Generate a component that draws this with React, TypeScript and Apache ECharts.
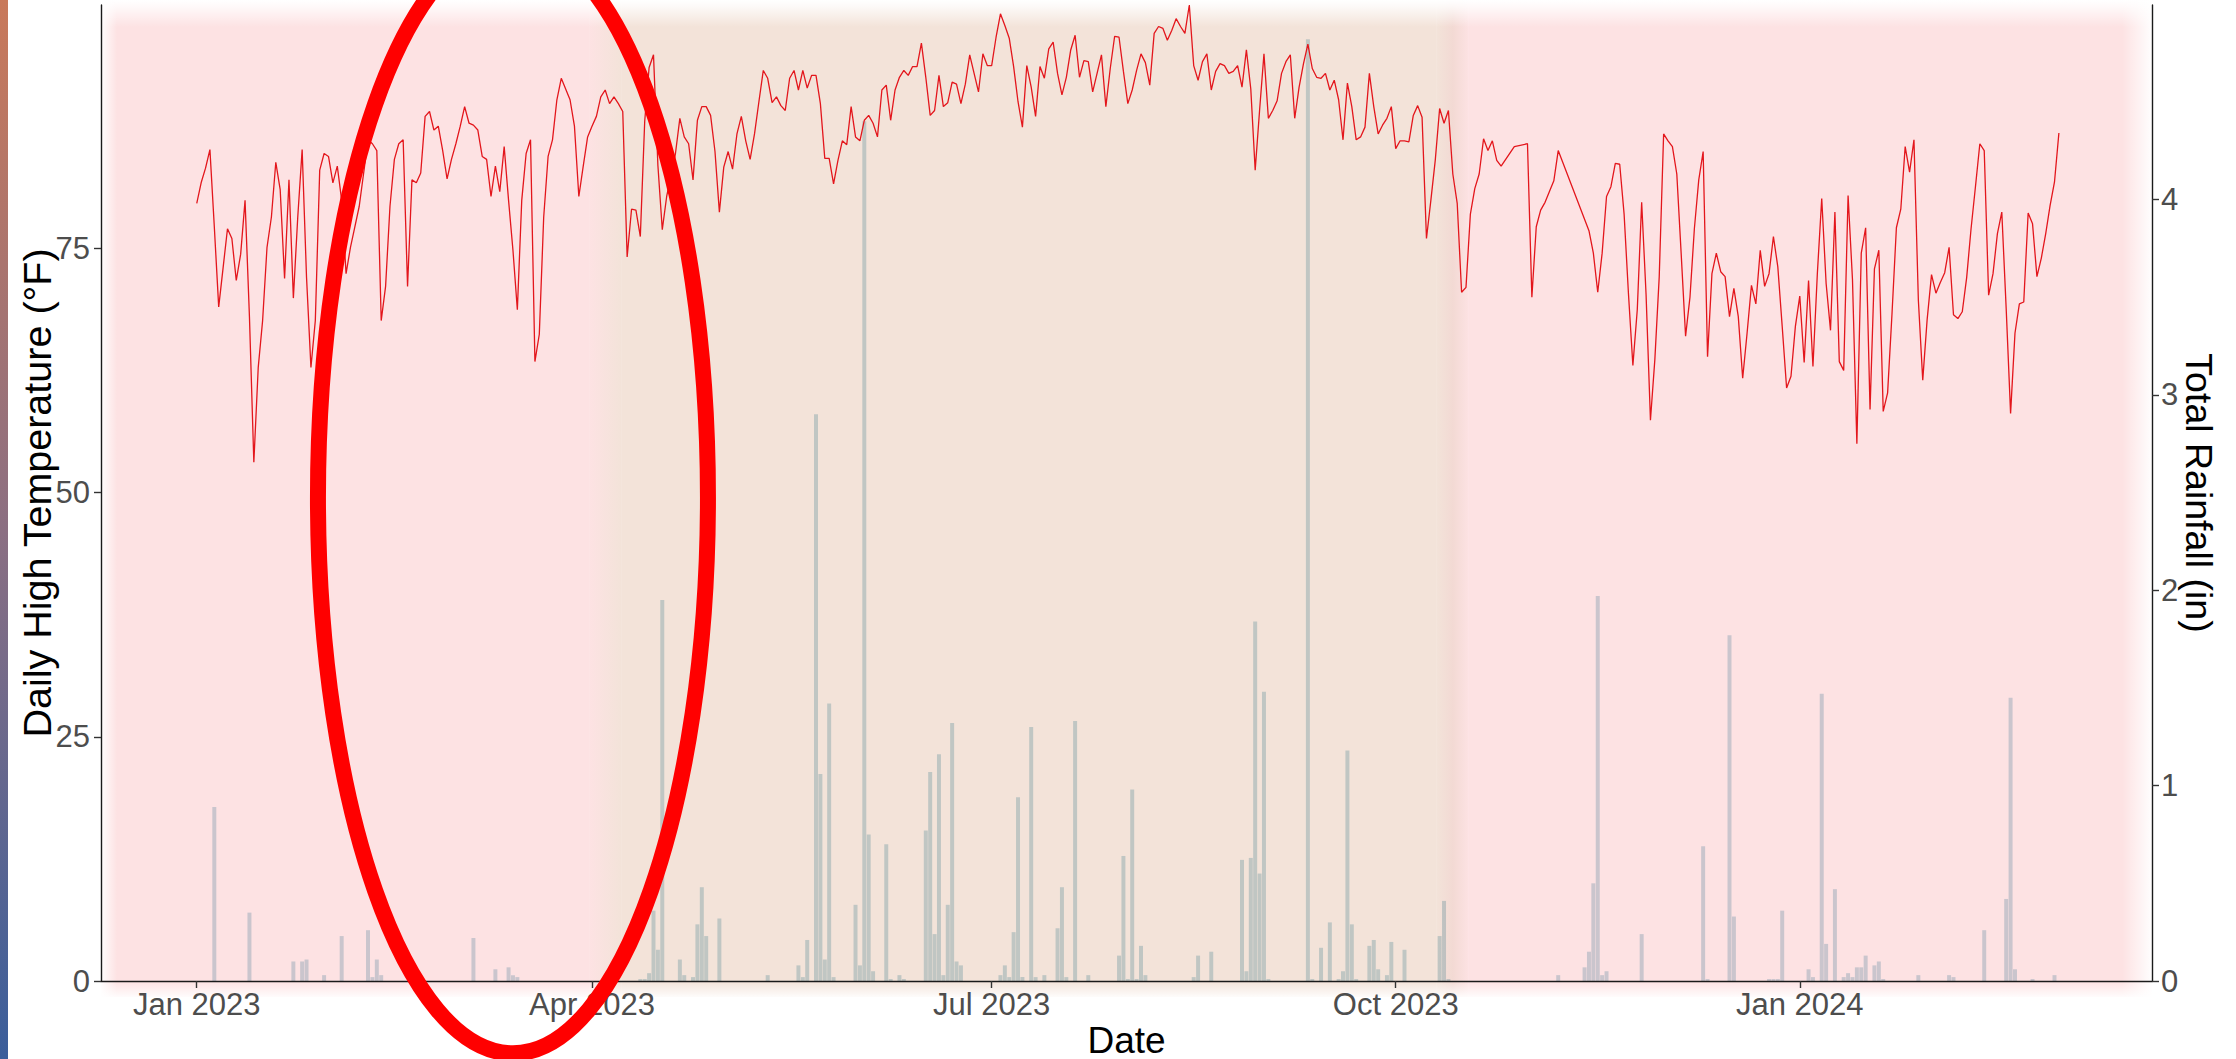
import React, { useEffect, useRef } from "react";
import * as echarts from "echarts";

// ---------------- data ----------------
const START_DATE = "2023-01-01"; // day index 0
// daily high temperature (°F), one value per day from START_DATE (null = no reading)
const highTempF: (number | null)[] = [
  79.6, 81.7, 83.2, 85.1, 77.2, 69.0, 73.0, 77.0, 76.0, 71.7,
  74.4, 79.9, 68.0, 53.1, 62.8, 67.6, 75.1, 78.2, 83.8, 81.0,
  71.9, 82.0, 69.9, 78.2, 85.1, 72.0, 62.8, 67.6, 83.0, 84.7,
  84.4, 81.7, 83.4, 79.9, 72.4, 75.1, 77.2, 79.3, 82.7, 86.1,
  85.7, 85.0, 67.6, 71.1, 79.3, 84.1, 85.7, 86.1, 71.1, 82.0,
  81.7, 82.7, 88.5, 89.0, 87.1, 87.5, 85.0, 82.1, 84.1, 85.7,
  87.5, 89.5, 87.8, 87.6, 87.1, 84.4, 84.1, 80.3, 83.4, 80.8,
  85.4, 79.9, 74.8, 68.7, 79.9, 84.7, 86.1, 63.4, 66.2, 78.2,
  84.4, 86.1, 90.2, 92.4, 91.3, 90.2, 87.5, 80.3, 83.4, 86.4,
  87.5, 88.5, 90.5, 91.2, 89.8, 90.5, 89.8, 89.0, 74.1, 79.0,
  78.9, 76.2, 88.0, 93.5, 94.8, 83.5, 76.9, 80.3, 82.5, 84.7,
  88.3, 86.4, 85.7, 82.0, 88.1, 89.5, 89.5, 88.6, 84.9, 78.7,
  83.3, 84.9, 83.1, 86.7, 88.5, 86.0, 84.1, 86.7, 90.0, 93.2,
  92.4, 89.9, 90.5, 89.6, 89.1, 92.4, 93.2, 91.2, 93.2, 91.4,
  92.7, 92.7, 89.8, 84.2, 84.2, 81.6, 84.0, 86.0, 85.6, 89.5,
  86.4, 86.0, 88.1, 88.6, 87.8, 86.4, 91.2, 91.7, 88.1, 91.2,
  92.5, 93.2, 92.7, 93.6, 93.6, 96.0, 92.5, 88.6, 89.1, 92.7,
  89.5, 89.9, 92.0, 91.8, 89.8, 91.8, 94.8, 92.9, 91.0, 94.9,
  93.7, 93.7, 96.6, 99.0, 97.8, 96.5, 93.6, 90.0, 87.4, 93.7,
  91.5, 88.5, 93.6, 92.4, 95.4, 96.1, 92.9, 90.7, 92.5, 95.3,
  96.8, 92.5, 94.2, 94.1, 91.0, 92.9, 94.8, 89.5, 93.4, 96.7,
  96.6, 93.1, 89.8, 91.2, 93.2, 94.9, 94.0, 91.7, 97.0, 97.7,
  97.5, 96.3, 97.3, 98.5, 97.7, 97.0, 99.9, 93.7, 92.2, 94.1,
  94.9, 91.2, 93.1, 93.9, 93.7, 92.9, 93.1, 93.7, 91.5, 95.3,
  91.3, 83.0, 89.1, 94.9, 88.3, 89.1, 90.1, 92.9, 94.1, 94.8,
  88.3, 91.5, 93.9, 95.9, 93.4, 92.5, 92.4, 92.9, 91.2, 92.2,
  90.2, 86.1, 91.9, 89.5, 86.1, 86.4, 87.4, 92.9, 89.5, 86.7,
  87.6, 88.3, 89.5, 85.2, 86.0, 86.0, 85.9, 88.6, 89.6, 88.4,
  76.0, 79.9, 84.0, 89.3, 87.8, 89.1, 82.6, 79.6, 70.5, 71.0,
  78.5, 81.1, 82.6, 86.2, 85.0, 86.0, 84.0, 83.4, null, null,
  85.4, null, null, 85.7, 70.0, 77.2, 78.9, 79.7, 80.8, 81.9,
  85.0, null, null, null, null, null, null, 76.8, 74.5, 70.5,
  74.5, 80.3, 81.3, 83.7, 83.6, 78.5, 70.3, 63.0, 68.7, 79.7,
  70.3, 57.4, 63.6, 72.1, 86.7, 86.0, 85.4, 82.6, 74.4, 66.0,
  70.0, 77.0, 82.0, 84.9, 63.9, 72.4, 74.5, 72.6, 72.1, 68.0,
  70.9, 68.0, 61.7, 66.3, 71.2, 69.3, 74.8, 71.1, 72.4, 76.2,
  73.1, 67.0, 60.7, 61.9, 67.0, 70.1, 63.3, 71.7, 62.9, 72.4,
  80.1, 71.4, 66.6, 78.7, 63.4, 62.5, 80.4, 71.8, 55.0, 74.5,
  77.1, 58.5, 72.9, 74.8, 58.3, 60.2, 68.3, 77.1, 79.0, 85.4,
  82.8, 86.1, 69.7, 61.5, 67.7, 72.3, 70.4, 71.5, 72.5, 75.1,
  68.2, 67.8, 68.5, 72.0, 77.0, 81.3, 85.7, 85.0, 70.2, 72.4,
  76.5, 78.7, 68.8, 58.1, 66.3, 69.3, 69.5, 78.6, 77.5, 72.1,
  74.0, 76.5, 79.4, 81.8, 86.8,
];

// days (offset from START_DATE) with measurable rainfall, and totals (in)
const rainDayIndex = [
  4, 12, 22, 24, 25, 29, 33, 39, 40, 41, 42, 63, 68, 71, 72, 73,
  101, 102, 103, 104, 105, 106, 110, 111, 113, 114, 115, 116, 119, 130,
  137, 138, 139, 141, 142, 143, 144, 145, 150, 151, 152, 153, 154, 157, 158,
  160, 161, 166, 167, 168, 169, 170, 171, 172, 173, 174, 183, 184, 185, 186,
  187, 188, 190, 191, 193, 196, 197, 198, 200, 203, 210, 211, 212, 213, 214,
  215, 216, 227, 228, 231, 238, 239, 240, 241, 242, 243, 244, 253, 254, 256,
  258, 260, 261, 262, 263, 264, 267, 268, 269, 271, 272, 275, 283, 284, 285,
  310, 316, 317, 318, 319, 320, 321, 329, 343, 344, 349, 350, 358, 359, 360,
  361, 367, 368, 370, 371, 373, 375, 376, 377, 378, 379, 380, 382, 383, 384,
  392, 399, 400, 407, 412, 413, 414, 418, 423,
];
const rainInches = [
  0.89, 0.35, 0.10, 0.10, 0.11, 0.03, 0.23, 0.26, 0.02, 0.11, 0.03, 0.22, 0.06, 0.07, 0.03, 0.02,
  0.01, 0.01, 0.04, 0.36, 0.16, 1.95, 0.11, 0.03, 0.02, 0.29, 0.48, 0.23, 0.32, 0.03,
  0.08, 0.02, 0.21, 2.90, 1.06, 0.11, 1.42, 0.02, 0.39, 0.08, 4.40, 0.75, 0.05, 0.70, 0.01,
  0.03, 0.01, 0.77, 1.07, 0.24, 1.16, 0.03, 0.39, 1.32, 0.10, 0.08, 0.03, 0.08, 0.02, 0.25,
  0.94, 0.02, 1.30, 0.02, 0.03, 0.27, 0.48, 0.02, 1.33, 0.03, 0.13, 0.64, 0.01, 0.98, 0.01,
  0.18, 0.03, 0.02, 0.13, 0.15, 0.62, 0.05, 0.63, 1.84, 0.55, 1.48, 0.01, 4.82, 0.01, 0.17,
  0.30, 0.01, 0.05, 1.18, 0.29, 0.01, 0.18, 0.21, 0.06, 0.03, 0.20, 0.16, 0.23, 0.41, 0.01,
  0.03, 0.07, 0.15, 0.50, 1.97, 0.03, 0.05, 0.24, 0.69, 0.01, 1.77, 0.33, 0.01, 0.01, 0.01,
  0.36, 0.06, 0.02, 1.47, 0.19, 0.47, 0.02, 0.04, 0.02, 0.07, 0.07, 0.13, 0.08, 0.10, 0.01,
  0.03, 0.03, 0.02, 0.26, 0.42, 1.45, 0.06, 0.01, 0.03,
];

const RAIN_TO_TEMP = 20; // secondary axis: inches = °F / 20
const xTickDates = ["2023-01-01", "2023-04-01", "2023-07-01", "2023-10-01", "2024-01-01"];
const tempTicks = [0, 25, 50, 75];
const rainTicks = [0, 1, 2, 3, 4];
const WET_SEASON = ["2023-04-04", "2023-10-14"]; // tan band; the rest is dry (pink)
// annotation ellipse, in data units (centre date/temperature, half-width in days, half-height in °F)
const ELLIPSE = { centerDate: "2023-03-14", centerTemp: 49.5, halfDays: 44.4, halfTemp: 56.9 };

const MONTHS = ["Jan", "Feb", "Mar", "Apr", "May", "Jun", "Jul", "Aug", "Sep", "Oct", "Nov", "Dec"];
const FONT = "'Liberation Sans', Arial, sans-serif";
const DAY = 86400000;
const ts = (s: string) => Date.parse(s + "T00:00:00Z");

export default function App() {
  const ref = useRef<HTMLDivElement>(null);

  useEffect(() => {
    document.body.style.margin = "0";
    const el = ref.current!;
    const chart = echarts.init(el, undefined, { renderer: "svg" });

    const t0 = ts(START_DATE);
    const lastIdx = highTempF.length - 1;
    const xMin = t0 - 21.8 * DAY;
    const xMax = t0 + (lastIdx + 21.2) * DAY;
    const yMax = Math.max(...(highTempF.filter((v) => v != null) as number[]));

    const tempData = highTempF.map((v, i) => [t0 + i * DAY, v]);
    const rainData = rainDayIndex.map((d, i) => [t0 + d * DAY, rainInches[i]]);
    const xTicks = xTickDates.map(ts);

    const axisLineStyle = { color: "#1a1a1a", width: 1.4 };
    const tickStyle = { color: "#333", width: 1.4 };

    chart.setOption({
      animation: false,
      textStyle: { fontFamily: FONT },
      grid: { left: 101, right: 84, top: 5, bottom: 78, outerBoundsMode: "none", containLabel: false },
      xAxis: {
        type: "value",
        min: xMin,
        max: xMax,
        z: 6,
        axisLine: { lineStyle: axisLineStyle },
        axisTick: { show: true, length: 7, lineStyle: tickStyle, customValues: xTicks },
        axisLabel: {
          customValues: xTicks,
          fontSize: 31,
          color: "#4d4d4d",
          margin: 8,
          fontFamily: FONT,
          formatter: (v: number) => {
            const d = new Date(v);
            return MONTHS[d.getUTCMonth()] + " " + d.getUTCFullYear();
          },
        },
        splitLine: { show: false },
        name: "Date",
        nameLocation: "middle",
        nameGap: 41,
        nameMoveOverlap: false,
        nameTextStyle: { fontSize: 37, lineHeight: 36, color: "#000", fontFamily: FONT },
      },
      yAxis: [
        {
          type: "value",
          min: 0,
          max: yMax,
          z: 6,
          axisLine: { show: true, lineStyle: axisLineStyle },
          axisTick: { show: true, length: 7, lineStyle: tickStyle, customValues: tempTicks },
          axisLabel: { customValues: tempTicks, fontSize: 31, color: "#4d4d4d", margin: 11, fontFamily: FONT },
          splitLine: { show: false },
          name: "Daily High Temperature (°F)",
          nameLocation: "middle",
          nameRotate: 90,
          nameGap: 44,
          nameMoveOverlap: false,
          nameTextStyle: { fontSize: 39.5, lineHeight: 40, color: "#000", fontFamily: FONT },
        },
        {
          type: "value",
          position: "right",
          min: 0,
          max: yMax / RAIN_TO_TEMP,
          z: 6,
          axisLine: { show: true, lineStyle: axisLineStyle },
          axisTick: { show: true, length: 7, lineStyle: tickStyle, customValues: rainTicks },
          axisLabel: { customValues: rainTicks, fontSize: 31, color: "#4d4d4d", margin: 9, fontFamily: FONT },
          splitLine: { show: false },
          name: "Total Rainfall (in)",
          nameLocation: "middle",
          nameRotate: -90,
          nameGap: 28,
          nameMoveOverlap: false,
          nameTextStyle: { fontSize: 37.5, lineHeight: 37, color: "#000", fontFamily: FONT },
        },
      ],
      series: [
        {
          type: "bar",
          name: "Rainfall",
          yAxisIndex: 1,
          data: rainData,
          barWidth: 4,
          z: 1,
          itemStyle: { color: "rgb(153,197,211)" },
          silent: true,
        },
        {
          type: "line",
          name: "High temperature",
          yAxisIndex: 0,
          data: tempData,
          showSymbol: false,
          connectNulls: true,
          z: 3,
          lineStyle: { color: "#e3161c", width: 1.3 },
          silent: true,
        },
      ],
    });

    // ---- shaded seasons, fades and annotation, placed through the axes ----
    const px = (t: number) => chart.convertToPixel({ xAxisIndex: 0 }, t) as number;
    const py = (v: number) => chart.convertToPixel({ yAxisIndex: 0 }, v) as number;
    const xL = px(xMin);
    const xR = px(xMax);
    const yTop = py(yMax);
    const yBot = py(0);
    const xA = px(ts(WET_SEASON[0]));
    const xB = px(ts(WET_SEASON[1]));
    const B = 16;
    const H = yBot + 16;

    const PINK = "rgba(251,197,199,0.5)";
    const TAN = "rgba(231,199,179,0.5)";
    const BAND = "rgba(230,180,168,0.5)";
    const W1 = "rgba(255,255,255,1)";
    const W0 = "rgba(255,255,255,0)";
    const lg = (x2: number, y2: number, stops: [number, string][]) =>
      new echarts.graphic.LinearGradient(0, 0, x2, y2, stops.map(([offset, color]) => ({ offset, color })));

    const cx = px(ts(ELLIPSE.centerDate));
    const cy = py(ELLIPSE.centerTemp);
    const rx = px(ts(ELLIPSE.centerDate) + ELLIPSE.halfDays * DAY) - cx;
    const ry = cy - py(ELLIPSE.centerTemp + ELLIPSE.halfTemp);

    const rect = (x: number, y: number, w: number, h: number, fill: any, z: number) => ({
      type: "rect",
      silent: true,
      z,
      shape: { x, y, width: w, height: h },
      style: { fill },
    });

    chart.setOption({
      graphic: [
        rect(0, 0, 8, 1059, lg(0, 1, [[0, "#c9795a"], [0.5, "#8b6f82"], [1, "#3a5e9b"]]), 0),
        rect(xL, 0, xA - B - xL, H, PINK, 2),
        rect(xA - B, 0, 2 * B, H, lg(1, 0, [[0, PINK], [1, TAN]]), 2),
        rect(xA + B, 0, xB - B - (xA + B), H, TAN, 2),
        rect(xB - B, 0, 2 * B, H, lg(1, 0, [[0, TAN], [0.5, BAND], [1, PINK]]), 2),
        rect(xB + B, 0, xR - (xB + B), H, PINK, 2),
        // soft edges of the shaded panel
        rect(xL - 2, 0, xR - xL + 4, yTop + 22, lg(0, 1, [[0, W1], [0.25, "rgba(255,255,255,0.8)"], [1, W0]]), 2.5),
        rect(xL - 2, yBot, xR - xL + 4, 18, lg(0, 1, [[0, W0], [1, W1]]), 2.5),
        rect(xL - 1, 0, 17, H + 2, lg(1, 0, [[0, W1], [1, W0]]), 2.5),
        rect(xR - 30, 0, 31, H + 2, lg(1, 0, [[0, W0], [1, W1]]), 2.5),
        {
          type: "ellipse",
          silent: true,
          z: 10,
          shape: { cx, cy, rx, ry },
          style: { fill: "transparent", stroke: "#ff0000", lineWidth: 16 },
        },
      ],
    });

    return () => chart.dispose();
  }, []);

  return <div ref={ref} style={{ position: "absolute", left: 0, top: 0, width: 2236, height: 1059 }} />;
}
